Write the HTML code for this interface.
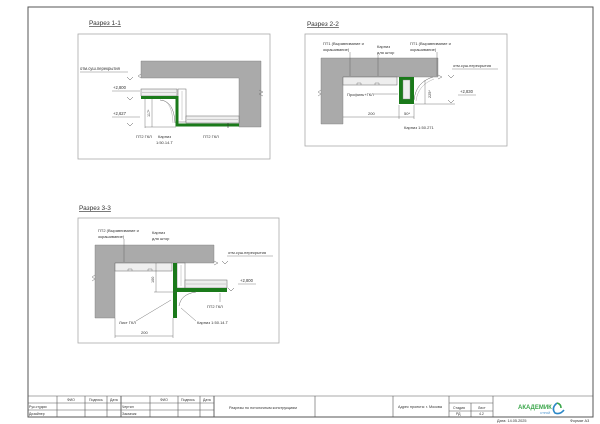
<!DOCTYPE html>
<html><head><meta charset="utf-8"><style>
html,body{margin:0;padding:0;background:#fff;}
svg{display:block;}
text{font-family:"Liberation Sans",sans-serif;fill:#333;}
</style></head><body>
<svg width="600" height="424" viewBox="0 0 600 424" xmlns="http://www.w3.org/2000/svg">
<rect x="0" y="0" width="600" height="424" fill="#fff"/>
<rect x="28" y="7" width="565" height="410" fill="none" stroke="#555" stroke-width="1"/>

<!-- ===== Section 1-1 ===== -->
<text x="89" y="25" font-size="6.5" text-decoration="underline">Разрез 1-1</text>
<rect x="78" y="34" width="192" height="125" fill="none" stroke="#aaa" stroke-width="0.8"/>
<path d="M141 61 H261 V127 H239 V78 H141 Z" fill="#aaa" stroke="#777" stroke-width="0.4"/>
<path d="M259 90 l4 2 l-4 2 l4 2" fill="none" stroke="#777" stroke-width="0.5"/>
<path d="M141 74 l-3 2 l3 2" fill="none" stroke="#777" stroke-width="0.5"/>
<rect x="141" y="89" width="36" height="7" fill="#eee" stroke="#666" stroke-width="0.5"/>
<line x1="142" y1="92.5" x2="176" y2="92.5" stroke="#999" stroke-width="0.4"/>
<rect x="178" y="89" width="8" height="33" fill="#fff" stroke="#666" stroke-width="0.5"/>
<line x1="182" y1="91" x2="182" y2="120" stroke="#999" stroke-width="0.4"/>
<rect x="186" y="116" width="53" height="7" fill="#eee" stroke="#666" stroke-width="0.5"/>
<line x1="187" y1="119.5" x2="238" y2="119.5" stroke="#999" stroke-width="0.4"/>
<path d="M141 97.5 H177 V125 H239" fill="none" stroke="#1a7a1a" stroke-width="3"/>
<path d="M160 100 Q174 101 175 123" fill="none" stroke="#666" stroke-width="0.5"/>
<path d="M162 100 Q172 102 173 123" fill="none" stroke="#999" stroke-width="0.4"/>
<text x="80" y="70" font-size="4.2">отм.суш.перекрытия</text>
<line x1="80" y1="72" x2="128" y2="72" stroke="#666" stroke-width="0.4"/>
<text x="113" y="89" font-size="4.2">+2,800</text>
<line x1="112" y1="91" x2="140" y2="91" stroke="#666" stroke-width="0.4"/>
<text x="113" y="115" font-size="4.2">+2,627</text>
<line x1="112" y1="117" x2="140" y2="117" stroke="#666" stroke-width="0.4"/>
<path d="M127 77 l3 3 l3 -3 M127 97 l3 3 l3 -3 M127 123 l3 3 l3 -3" fill="none" stroke="#555" stroke-width="0.5"/>
<line x1="152" y1="99" x2="152" y2="127" stroke="#555" stroke-width="0.4"/>
<line x1="145" y1="127" x2="176" y2="127" stroke="#555" stroke-width="0.4"/>
<text x="150" y="117" font-size="3.8" transform="rotate(-90 150 117)">117*</text>
<line x1="145" y1="99" x2="145" y2="128" stroke="#555" stroke-width="0.4"/>
<text x="136" y="138" font-size="4">ПТ2 ГКЛ</text>
<text x="158" y="138" font-size="4">Карниз</text>
<text x="156" y="144" font-size="4">1:50.14.Т</text>
<text x="203" y="138" font-size="4">ПТ2 ГКЛ</text>
<line x1="228" y1="123" x2="228" y2="128" stroke="#333" stroke-width="0.6"/>

<!-- ===== Section 2-2 ===== -->
<text x="307" y="26" font-size="6.5" text-decoration="underline">Разрез 2-2</text>
<rect x="305" y="34" width="202" height="112" fill="none" stroke="#aaa" stroke-width="0.8"/>
<path d="M321 58 H438 V77 H343 V124 H321 Z" fill="#aaa" stroke="#777" stroke-width="0.4"/>
<path d="M321 90 l-3 2 l3 2 l-3 2" fill="none" stroke="#777" stroke-width="0.5"/>
<path d="M438 75 l4 2 l-4 2" fill="none" stroke="#777" stroke-width="0.5"/>
<rect x="343" y="77" width="54" height="8" fill="#eee" stroke="#666" stroke-width="0.5"/>
<path d="M357 85 v-2 h4 v2 M375 85 v-2 h4 v2" fill="none" stroke="#666" stroke-width="0.4"/>
<rect x="399" y="77" width="15" height="27" fill="#1a7a1a"/>
<rect x="403" y="80" width="7" height="19" fill="#eee" stroke="#888" stroke-width="0.4"/>
<path d="M414 100 Q416 82 433 77" fill="none" stroke="#666" stroke-width="0.5"/>
<path d="M416 101 Q418 85 434 79" fill="none" stroke="#999" stroke-width="0.4"/>
<text x="323" y="45" font-size="4">ПТ1 (Выравнивание и</text>
<text x="323" y="51" font-size="4">окрашивание)</text>
<line x1="350" y1="52" x2="350" y2="76" stroke="#555" stroke-width="0.4"/>
<text x="377" y="48" font-size="4">Карниз</text>
<text x="377" y="54" font-size="4">для штор</text>
<line x1="378" y1="55" x2="378" y2="76" stroke="#555" stroke-width="0.4"/>
<text x="410" y="45" font-size="4">ПТ1 (Выравнивание и</text>
<text x="410" y="51" font-size="4">окрашивание)</text>
<line x1="437" y1="52" x2="437" y2="76" stroke="#555" stroke-width="0.4"/>
<text x="453" y="67" font-size="4">отм.суш.перекрытия</text>
<line x1="452" y1="69" x2="498" y2="69" stroke="#666" stroke-width="0.4"/>
<path d="M448 75 l3 3 l3 -3 M448 100 l3 3 l3 -3" fill="none" stroke="#555" stroke-width="0.5"/>
<text x="460" y="93" font-size="4.2">+2,830</text>
<line x1="458" y1="95" x2="476" y2="95" stroke="#666" stroke-width="0.4"/>
<line x1="414" y1="104" x2="455" y2="104" stroke="#555" stroke-width="0.4"/>
<line x1="425" y1="80" x2="425" y2="104" stroke="#555" stroke-width="0.4"/>
<text x="431" y="98" font-size="3.8" transform="rotate(-90 431 98)">225*</text>
<text x="347" y="96" font-size="4">Профиль+ГКЛ</text>
<line x1="374" y1="94" x2="398" y2="94" stroke="#555" stroke-width="0.4"/>
<line x1="343" y1="117" x2="414" y2="117" stroke="#555" stroke-width="0.4"/>
<line x1="399" y1="105" x2="399" y2="119" stroke="#555" stroke-width="0.4"/>
<line x1="414" y1="105" x2="414" y2="119" stroke="#555" stroke-width="0.4"/>
<text x="368" y="115" font-size="4">200</text>
<text x="404" y="115" font-size="4">50*</text>
<text x="404" y="129" font-size="4">Карниз 1:50.271</text>

<!-- ===== Section 3-3 ===== -->
<text x="79" y="210" font-size="6.5" text-decoration="underline">Разрез 3-3</text>
<rect x="78" y="218" width="201" height="125" fill="none" stroke="#aaa" stroke-width="0.8"/>
<path d="M95 245 H214 V263 H115 V318 H95 Z" fill="#aaa" stroke="#777" stroke-width="0.4"/>
<path d="M95 275 l-3 2 l3 2 l-3 2" fill="none" stroke="#777" stroke-width="0.5"/>
<path d="M214 261 l4 2 l-4 2" fill="none" stroke="#777" stroke-width="0.5"/>
<rect x="115" y="263" width="57" height="8" fill="#eee" stroke="#666" stroke-width="0.5"/>
<path d="M128 271 v-2 h4 v2 M148 271 v-2 h4 v2" fill="none" stroke="#666" stroke-width="0.4"/>
<rect x="177" y="263" width="8" height="25" fill="#fff" stroke="#666" stroke-width="0.5"/>
<line x1="181" y1="265" x2="181" y2="286" stroke="#999" stroke-width="0.4"/>
<rect x="185" y="280" width="42" height="8" fill="#eee" stroke="#666" stroke-width="0.5"/>
<line x1="186" y1="284" x2="226" y2="284" stroke="#999" stroke-width="0.4"/>
<rect x="173" y="263" width="4" height="55" fill="#1a7a1a"/>
<rect x="177" y="288" width="50" height="4" fill="#1a7a1a"/>
<path d="M179 306 Q181 294 196 292" fill="none" stroke="#666" stroke-width="0.5"/>
<text x="98" y="232" font-size="4">ПТ2 (Выравнивание и</text>
<text x="98" y="238" font-size="4">окрашивание)</text>
<line x1="124" y1="239" x2="124" y2="262" stroke="#555" stroke-width="0.4"/>
<text x="152" y="234" font-size="4">Карниз</text>
<text x="152" y="240" font-size="4">для штор</text>
<text x="228" y="254" font-size="4">отм.суш.перекрытия</text>
<line x1="227" y1="256" x2="273" y2="256" stroke="#666" stroke-width="0.4"/>
<path d="M222 261 l3 3 l3 -3 M228 288 l3 3 l3 -3" fill="none" stroke="#555" stroke-width="0.5"/>
<text x="240" y="282" font-size="4.2">+2,800</text>
<line x1="238" y1="284" x2="256" y2="284" stroke="#666" stroke-width="0.4"/>
<line x1="156" y1="263" x2="156" y2="292" stroke="#555" stroke-width="0.4"/>
<line x1="154" y1="292" x2="176" y2="292" stroke="#555" stroke-width="0.4"/>
<text x="154" y="283" font-size="3.8" transform="rotate(-90 154 283)">100</text>
<text x="207" y="308" font-size="4">ПТ2 ГКЛ</text>
<line x1="220" y1="293" x2="220" y2="302" stroke="#555" stroke-width="0.4"/>
<text x="119" y="324" font-size="4">Лист ГКЛ</text>
<line x1="136" y1="321" x2="171" y2="300" stroke="#555" stroke-width="0.4"/>
<text x="197" y="324" font-size="4">Карниз 1:50.14.Т</text>
<line x1="196" y1="321" x2="181" y2="308" stroke="#555" stroke-width="0.4"/>
<line x1="115" y1="336" x2="173" y2="336" stroke="#555" stroke-width="0.4"/>
<line x1="115" y1="318" x2="115" y2="338" stroke="#555" stroke-width="0.4"/>
<line x1="173" y1="318" x2="173" y2="338" stroke="#555" stroke-width="0.4"/>
<text x="141" y="334" font-size="4">200</text>

<!-- ===== Title block ===== -->
<g stroke="#555" stroke-width="0.6" fill="none">
<line x1="28" y1="396" x2="593" y2="396"/>
<line x1="28" y1="403" x2="214" y2="403"/>
<line x1="28" y1="410" x2="214" y2="410"/>
<line x1="57" y1="396" x2="57" y2="417"/>
<line x1="85" y1="396" x2="85" y2="417"/>
<line x1="107" y1="396" x2="107" y2="417"/>
<line x1="121" y1="396" x2="121" y2="417" stroke-width="0.9"/>
<line x1="150" y1="396" x2="150" y2="417"/>
<line x1="178" y1="396" x2="178" y2="417"/>
<line x1="200" y1="396" x2="200" y2="417"/>
<line x1="214" y1="396" x2="214" y2="417" stroke-width="0.9"/>
<line x1="315" y1="396" x2="315" y2="417"/>
<line x1="393" y1="396" x2="393" y2="417"/>
<line x1="449" y1="396" x2="449" y2="417"/>
<line x1="449" y1="403" x2="493" y2="403"/>
<line x1="449" y1="411" x2="493" y2="411"/>
<line x1="471" y1="403" x2="471" y2="417"/>
<line x1="493" y1="396" x2="493" y2="417"/>
</g>
<g font-size="3.5">
<text x="67" y="401">ФИО</text><text x="89" y="401">Подпись</text><text x="110" y="401">Дата</text>
<text x="160" y="401">ФИО</text><text x="181" y="401">Подпись</text><text x="203" y="401">Дата</text>
<text x="29" y="408">Рук.студии</text><text x="29" y="415">Дизайнер</text>
<text x="122" y="408">Чертил</text><text x="122" y="415">Заказчик</text>
<text x="229" y="409" font-size="3.8">Разрезы по потолочным конструкциям</text>
<text x="398" y="408" font-size="3.8">Адрес проекта: г. Москва</text>
<text x="453" y="409">Стадия</text><text x="478" y="409">Лист</text>
<text x="456" y="415">РД</text><text x="479" y="415">4.2</text>
</g>
<text x="518" y="409" font-size="6" font-weight="bold" style="fill:#3aa64a">АКАДЕМИК</text>
<text x="540" y="414" font-size="3" style="fill:#3a8acb">СТРОЙ</text>
<path d="M557 403 Q551 408 555 413 Q560 415 564 410" fill="none" stroke="#2c88c8" stroke-width="1.6"/>
<path d="M557 403 Q561 404 561 408" fill="none" stroke="#3aa64a" stroke-width="1.6"/>
<text x="497" y="422" font-size="3.8">Дата: 14.05.2025</text>
<text x="570" y="422" font-size="3.8">Формат А3</text>
</svg>
</body></html>
